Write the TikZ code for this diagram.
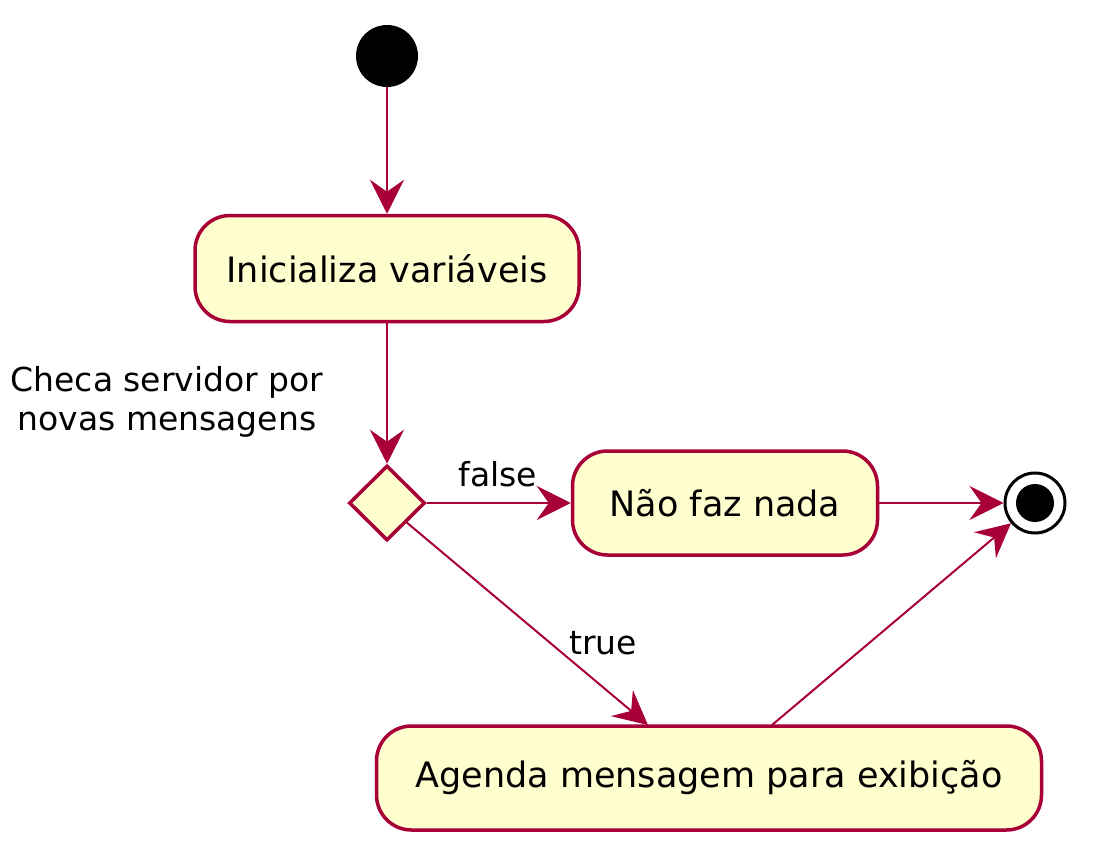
\documentclass[tikz,border=0pt]{standalone}
\usepackage{fontspec}
\setmainfont{DejaVu Sans}
\usetikzlibrary{arrows.meta,shapes.geometric}
\definecolor{pborder}{HTML}{A80036}
\definecolor{pfill}{HTML}{FEFECE}
\begin{document}
\begin{tikzpicture}[x=1pt,y=-1pt,
  act/.style={draw=pborder,fill=pfill,line width=3.5pt,rounded corners=35pt,inner sep=0pt,font=\fontsize{35}{42}\selectfont},
  conn/.style={draw=pborder,line width=2pt,-{Stealth[length=34pt,width=34pt,inset=12pt]}},
  plain/.style={draw=pborder,line width=2pt},
  lbl/.style={font=\fontsize{33}{39}\selectfont,align=center,inner sep=0pt}]
\useasboundingbox (0,0) rectangle (1096,862);
\node[circle,fill=black,minimum size=62pt,inner sep=0pt] (start) at (387,56) {};
\node[act,minimum width=384pt,minimum height=106pt] (b1) at (387,268.5) {Inicializa variáveis};
\node[diamond,draw=pborder,fill=pfill,line width=3.5pt,minimum width=76pt,minimum height=75pt,inner sep=0pt] (d) at (387,503) {};
\node[act,minimum width=305pt,minimum height=104pt] (b2) at (725,503) {Não faz nada};
\node[act,minimum width=665pt,minimum height=104pt] (b3) at (709,778) {Agenda mensagem para exibição};
\node[circle,draw=black,fill=white,line width=3pt,minimum size=60pt,inner sep=0pt] (end) at (1035,503) {};
\node[circle,fill=black,minimum size=38pt,inner sep=0pt] (endin) at (1035,503) {};
\node[lbl] (note) at (167,402) {Checa servidor por\\novas mensagens};
\node[lbl] (lfalse) at (498,474) {false};
\node[lbl] (ltrue) at (603,643) {true};
\coordinate (b3in) at (648,725);
\coordinate (b3out) at (772,725);
\draw[conn] (start) -- (b1);
\draw[conn] (b1) -- (d);
\draw[conn] (d) -- (b2);
\draw[conn] (b2) -- (end);
\draw[conn] (d.south east) -- (b3in);
\draw[conn] (b3out) -- (end);
\end{tikzpicture}
\end{document}
